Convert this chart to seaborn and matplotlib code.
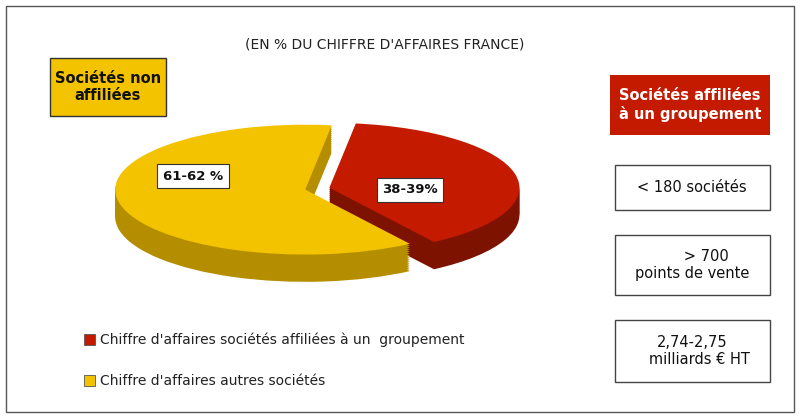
import matplotlib
matplotlib.use("Agg")
import matplotlib.pyplot as plt
import seaborn as sns
from matplotlib.patches import Rectangle

sns.set_theme(style="white")

# data
parts = ["Chiffre d'affaires sociétés affiliées à un  groupement",
         "Chiffre d'affaires autres sociétés"]
shares = [38.5, 61.5]
share_labels = ["38-39%", "61-62 %"]
top_colors = ["#C41A00", "#F3C300"]
side_colors = ["#7E1200", "#B58E00"]
facts = ["< 180 sociétés", "      > 700\npoints de vente", "2,74-2,75\n   milliards € HT"]

fig = plt.figure(figsize=(8, 4.2), dpi=100)
bg = fig.add_axes([0, 0, 1, 1])
bg.set_xlim(0, 800)
bg.set_ylim(420, 0)
bg.axis("off")
bg.add_patch(Rectangle((6, 6), 788, 406, fill=False, ec="#555555", lw=1))

bg.text(385, 45, "(EN % DU CHIFFRE D'AFFAIRES FRANCE)", ha="center", va="center",
        fontsize=10, color="#222222")

# left yellow box
bg.add_patch(Rectangle((50, 58), 116, 58, fc="#F3C300", ec="#333333", lw=1))
bg.text(108, 87, "Sociétés non\naffiliées", ha="center", va="center",
        fontsize=10.5, fontweight="bold", color="#111111")

# right red box
bg.add_patch(Rectangle((610, 75), 160, 60, fc="#C41A00", ec="none"))
bg.text(690, 105, "Sociétés affiliées\nà un groupement", ha="center", va="center",
        fontsize=10.5, fontweight="bold", color="white")

for (y, h), txt in zip([(165, 45), (235, 60), (320, 62)], facts):
    bg.add_patch(Rectangle((615, y), 155, h, fill=False, ec="#444444", lw=1))
    bg.text(692, y + h / 2, txt, ha="center", va="center", fontsize=10.5, color="#111111")

# legend
for (y, label), c in zip([(340, parts[0]), (381, parts[1])], top_colors):
    bg.add_patch(Rectangle((84, y - 6), 11, 11, fc=c, ec="#555555", lw=0.6))
    bg.text(100, y, label, ha="left", va="center", fontsize=10, color="#222222")

# pseudo 3D pie
ax = fig.add_axes([100 / 800, (420 - 313) / 420, 420 / 800, 200 / 420])
explode = [0.13, 0.0]
depth = 0.42
n = 14
for k in range(n, 0, -1):
    ax.pie(shares, colors=side_colors, startangle=82, counterclock=False,
           explode=explode, center=(0, -depth * k / n), radius=1,
           wedgeprops=dict(lw=0))
wedges, _ = ax.pie(shares, colors=top_colors, startangle=82, counterclock=False,
                   explode=explode, radius=1, wedgeprops=dict(lw=0))
ax.set_aspect("auto")
ax.set_xlim(-1.08, 1.13)
ax.set_ylim(-1.9, 1.18)
ax.axis("off")

fig.text(410 / 800, 1 - 190 / 420, share_labels[0], ha="center", va="center", fontsize=9.5,
         fontweight="bold", color="#111111",
         bbox=dict(fc="white", ec="#333333", lw=0.8, pad=4), zorder=10)
fig.text(193 / 800, 1 - 176 / 420, share_labels[1], ha="center", va="center", fontsize=9.5,
         fontweight="bold", color="#111111",
         bbox=dict(fc="white", ec="#333333", lw=0.8, pad=4), zorder=10)

fig.savefig("out.png", dpi=100)
